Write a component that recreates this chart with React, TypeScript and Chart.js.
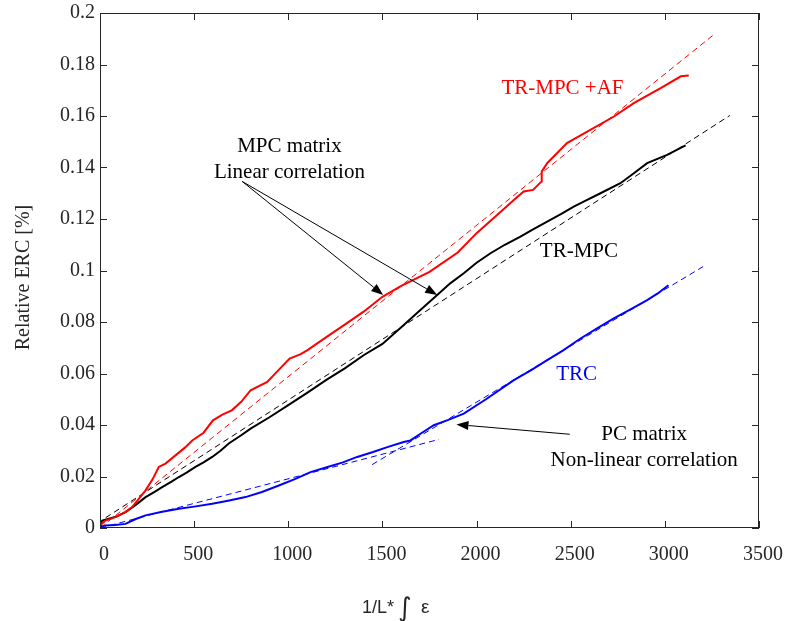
import React, { useEffect, useRef } from 'react';
import { Chart, registerables } from 'chart.js';

Chart.register(...registerables);

// ---- axis ticks ----
const xTickValues = [0, 500, 1000, 1500, 2000, 2500, 3000, 3500];
const yTickValues = [0, 0.02, 0.04, 0.06, 0.08, 0.1, 0.12, 0.14, 0.16, 0.18, 0.2];

// ---- TR-MPC +AF (red, measured) ----
const redX = [0, 29, 82, 135, 171, 242, 280, 312, 348, 401, 454, 490, 550, 600, 650, 700, 750, 800, 888, 948, 1007, 1066, 1100, 1200, 1300, 1400, 1500, 1600, 1750, 1900, 2000, 2100, 2198, 2250, 2300, 2345, 2346, 2375, 2410, 2480, 2590, 2730, 2835, 2980, 3085, 3127];
const redY = [0.001, 0.0029, 0.0042, 0.0062, 0.0081, 0.0146, 0.019, 0.0237, 0.025, 0.0282, 0.0314, 0.034, 0.037, 0.0418, 0.044, 0.0457, 0.049, 0.0535, 0.0567, 0.0613, 0.0658, 0.0675, 0.069, 0.074, 0.079, 0.084, 0.0898, 0.094, 0.0995, 0.107, 0.1145, 0.121, 0.1274, 0.1307, 0.1313, 0.1346, 0.1384, 0.1417, 0.1443, 0.1495, 0.154, 0.1598, 0.165, 0.1709, 0.1754, 0.1757];

// ---- TR-MPC (black, measured) ----
const blackX = [0, 5, 12, 47, 90, 135, 190, 242, 290, 330, 380, 419, 460, 507, 550, 596, 640, 684, 750, 800, 900, 1000, 1100, 1200, 1300, 1400, 1500, 1600, 1700, 1791, 1860, 1932, 2000, 2074, 2150, 2233, 2300, 2375, 2450, 2516, 2590, 2658, 2764, 2830, 2906, 3012, 3110];
const blackY = [0.0005, 0.002, 0.0029, 0.0036, 0.0045, 0.0062, 0.009, 0.012, 0.014, 0.0159, 0.018, 0.0198, 0.0215, 0.0237, 0.0255, 0.0276, 0.03, 0.0328, 0.036, 0.0386, 0.043, 0.0477, 0.0525, 0.0574, 0.062, 0.0671, 0.0715, 0.078, 0.0846, 0.0905, 0.095, 0.0989, 0.103, 0.1067, 0.11, 0.1132, 0.116, 0.119, 0.122, 0.1248, 0.1275, 0.13, 0.1339, 0.1375, 0.1417, 0.1449, 0.1486];

// ---- TRC (blue, measured) ----
const blueX = [0, 29, 80, 135, 190, 242, 330, 419, 500, 596, 680, 773, 860, 950, 1038, 1118, 1200, 1290, 1366, 1450, 1530, 1613, 1649, 1700, 1773, 1850, 1932, 2050, 2198, 2290, 2375, 2460, 2552, 2640, 2729, 2820, 2906, 2960, 3019];
const blueY = [0.0003, 0.001, 0.0012, 0.0016, 0.0035, 0.0049, 0.0063, 0.0075, 0.0083, 0.0094, 0.0106, 0.012, 0.014, 0.0165, 0.0191, 0.0217, 0.0235, 0.0255, 0.0276, 0.0295, 0.0315, 0.0334, 0.034, 0.0365, 0.0399, 0.042, 0.0444, 0.05, 0.0574, 0.0613, 0.0652, 0.069, 0.0736, 0.0775, 0.0814, 0.085, 0.0885, 0.091, 0.0943];

// ---- fitted correlation lines (dashed, endpoints read) ----
const redFitX = [0, 3260];
const redFitY = [0, 0.1916];
const blackFitX = [30, 3345];
const blackFitY = [0.004, 0.1602];
const blueFitLowX = [0, 1800];
const blueFitLowY = [0, 0.0344];
const blueFitHighX = [1445, 3203];
const blueFitHighY = [0.0246, 0.1015];

// ---- annotation texts (data coordinates) ----
const noteTexts = ['TR-MPC +AF', 'TR-MPC', 'TRC', 'MPC matrix', 'Linear correlation', 'PC matrix', 'Non-linear correlation'];
const noteX = [2132, 2336, 2423, 1006, 1006, 2890, 2890];
const noteY = [0.1686, 0.1053, 0.0574, 0.1462, 0.1359, 0.0343, 0.024];
const noteColor = ['#ff0000', '#000000', '#0000ff', '#000000', '#000000', '#000000', '#000000'];
const noteAlign: CanvasTextAlign[] = ['left', 'left', 'left', 'center', 'center', 'center', 'center'];

// ---- arrows (data coordinates: from -> to) ----
const arrowFromX = [755, 755, 2495];
const arrowFromY = [0.1346, 0.1346, 0.0364];
const arrowToX = [1504, 1791, 1893];
const arrowToY = [0.0905, 0.0905, 0.0402];

const pts = (xs: number[], ys: number[]) => xs.map((x, i) => ({ x, y: ys[i] }));

const AXIS = '#262626';
const SERIF = '"Liberation Serif", "Times New Roman", serif';
const SANS = '"Liberation Sans", Arial, sans-serif';

const decorPlugin = {
  id: 'decor',
  afterDraw(chart: any) {
    const { ctx, chartArea: a, scales } = chart;
    const xs = scales.x;
    const ys = scales.y;
    ctx.save();
    // box
    ctx.strokeStyle = AXIS;
    ctx.lineWidth = 1;
    ctx.strokeRect(Math.round(a.left) + 0.5, Math.round(a.top) + 0.5, Math.round(a.right - a.left) - 1, Math.round(a.bottom - a.top) - 1);
    // inward ticks
    const tl = 7;
    ctx.beginPath();
    xTickValues.forEach((v) => {
      const px = Math.round(xs.getPixelForValue(v)) + 0.5;
      ctx.moveTo(px, a.bottom);
      ctx.lineTo(px, a.bottom - tl);
      ctx.moveTo(px, a.top);
      ctx.lineTo(px, a.top + tl);
    });
    yTickValues.forEach((v) => {
      const py = Math.round(ys.getPixelForValue(v)) + 0.5;
      ctx.moveTo(a.left, py);
      ctx.lineTo(a.left + tl, py);
      ctx.moveTo(a.right, py);
      ctx.lineTo(a.right - tl, py);
    });
    ctx.stroke();

    // annotation texts
    ctx.font = '21px ' + SERIF;
    ctx.textBaseline = 'alphabetic';
    noteTexts.forEach((t, i) => {
      ctx.fillStyle = noteColor[i];
      ctx.textAlign = noteAlign[i];
      ctx.fillText(t, xs.getPixelForValue(noteX[i]), ys.getPixelForValue(noteY[i]));
    });

    // arrows
    ctx.strokeStyle = '#000';
    ctx.fillStyle = '#000';
    ctx.lineWidth = 1;
    arrowFromX.forEach((_, i) => {
      const x0 = xs.getPixelForValue(arrowFromX[i]);
      const y0 = ys.getPixelForValue(arrowFromY[i]);
      const x1 = xs.getPixelForValue(arrowToX[i]);
      const y1 = ys.getPixelForValue(arrowToY[i]);
      const ang = Math.atan2(y1 - y0, x1 - x0);
      const L = 12, W = 4.5;
      const bx = x1 - L * Math.cos(ang);
      const by = y1 - L * Math.sin(ang);
      ctx.beginPath();
      ctx.moveTo(x0, y0);
      ctx.lineTo(bx, by);
      ctx.stroke();
      ctx.beginPath();
      ctx.moveTo(x1, y1);
      ctx.lineTo(bx + W * Math.sin(ang), by - W * Math.cos(ang));
      ctx.lineTo(bx - W * Math.sin(ang), by + W * Math.cos(ang));
      ctx.closePath();
      ctx.fill();
    });

    // y-axis title
    ctx.save();
    ctx.translate(24, 277.5);
    ctx.rotate(-Math.PI / 2);
    ctx.font = '20px ' + SERIF;
    ctx.fillStyle = AXIS;
    ctx.textAlign = 'center';
    ctx.textBaseline = 'middle';
    ctx.fillText('Relative ERC [%]', 0, 0);
    ctx.restore();

    // x-axis title: 1/L* ∫ ε
    ctx.fillStyle = AXIS;
    ctx.textAlign = 'left';
    ctx.textBaseline = 'alphabetic';
    ctx.font = '18px ' + SANS;
    ctx.fillText('1/L*', 362, 613);
    ctx.font = '26px "DejaVu Sans", sans-serif';
    ctx.fillText('\u222B', 398, 616);
    ctx.font = '19px ' + SANS;
    ctx.fillText('\u03B5', 421, 613);
    ctx.restore();
  },
};

export default function App() {
  const ref = useRef<HTMLCanvasElement | null>(null);
  useEffect(() => {
    document.body.style.margin = '0';
    document.body.style.overflow = 'hidden';
    const canvas = ref.current;
    if (!canvas) return;
    const solid = (label: string, data: any[], color: string) => ({
      label, data, borderColor: color, backgroundColor: color, borderWidth: 2,
      pointRadius: 0, tension: 0, fill: false,
    });
    const dashed = (label: string, data: any[], color: string) => ({
      label, data, borderColor: color, backgroundColor: color, borderWidth: 1,
      borderDash: [6, 4], pointRadius: 0, tension: 0, fill: false,
    });
    const zeroPad = (s: any) => {
      s.paddingLeft = 0; s.paddingRight = 0; s.paddingTop = 0; s.paddingBottom = 0;
    };
    const chart = new Chart(canvas, {
      type: 'line',
      data: {
        datasets: [
          solid('TR-MPC +AF', pts(redX, redY), '#ff0000'),
          solid('TR-MPC', pts(blackX, blackY), '#000000'),
          solid('TRC', pts(blueX, blueY), '#0000ff'),
          dashed('TR-MPC +AF fit', pts(redFitX, redFitY), '#ff0000'),
          dashed('TR-MPC fit', pts(blackFitX, blackFitY), '#000000'),
          dashed('TRC fit low', pts(blueFitLowX, blueFitLowY), '#0000ff'),
          dashed('TRC fit high', pts(blueFitHighX, blueFitHighY), '#0000ff'),
        ],
      },
      options: {
        responsive: false,
        animation: false,
        devicePixelRatio: 1,
        layout: { padding: { left: 0, right: 28, top: 13, bottom: 0 } },
        plugins: { legend: { display: false }, tooltip: { enabled: false } },
        scales: {
          x: {
            type: 'linear',
            min: 0,
            max: 3500,
            afterFit: (s: any) => { s.height = 93; zeroPad(s); },
            afterBuildTicks: (s: any) => { s.ticks = xTickValues.map((v) => ({ value: v })); },
            grid: { display: false, drawTicks: false },
            border: { display: false },
            ticks: {
              padding: 15,
              labelOffset: 4,
              color: AXIS,
              font: { family: SERIF, size: 20 },
              callback: (v: any) => String(v),
              maxRotation: 0,
            },
          },
          y: {
            type: 'linear',
            min: 0,
            max: 0.2,
            afterFit: (s: any) => { s.width = 100; zeroPad(s); },
            afterBuildTicks: (s: any) => { s.ticks = yTickValues.map((v) => ({ value: v })); },
            grid: { display: false, drawTicks: false },
            border: { display: false },
            ticks: {
              padding: 5,
              color: AXIS,
              font: { family: SERIF, size: 20 },
              callback: (v: any) => String(parseFloat(Number(v).toFixed(2))),
            },
          },
        },
      },
      plugins: [decorPlugin],
    });
    return () => chart.destroy();
  }, []);
  return <canvas ref={ref} width={787} height={621} style={{ display: 'block' }} />;
}
